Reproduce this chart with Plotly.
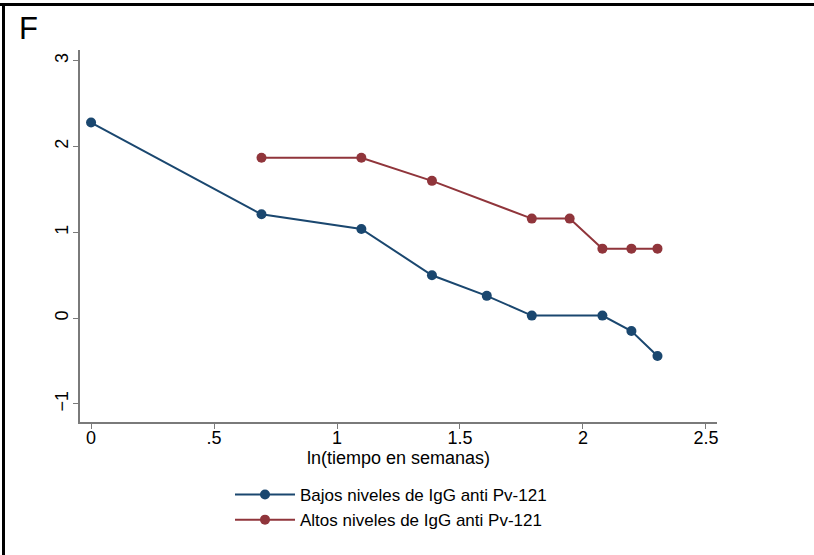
import plotly.graph_objects as go

# ln(weeks) on the x axis, log-log survival on the y axis
x_bajos = [0.0, 0.693, 1.099, 1.386, 1.609, 1.792, 2.079, 2.197, 2.303]
y_bajos = [2.28, 1.21, 1.04, 0.50, 0.26, 0.03, 0.03, -0.15, -0.44]

x_altos = [0.693, 1.099, 1.386, 1.792, 1.946, 2.079, 2.197, 2.303]
y_altos = [1.87, 1.87, 1.60, 1.16, 1.16, 0.81, 0.81, 0.81]

x_ticks = [0, 0.5, 1, 1.5, 2, 2.5]
x_tick_labels = ["0", ".5", "1", "1.5", "2", "2.5"]
y_ticks = [-1, 0, 1, 2, 3]

name_bajos = "Bajos niveles de IgG anti Pv-121"
name_altos = "Altos niveles de IgG anti Pv-121"

BLUE = "#1a476f"
RED = "#90353b"
AXIS = "#7a7a7a"
FONT = "Liberation Sans, Arial, sans-serif"

W, H = 814, 555
ML, MR, MT, MB = 80, 97, 50, 133
PW, PH = W - ML - MR, H - MT - MB


def px_x(p):
    return (p - ML) / PW


def px_y(p):
    return (H - MB - p) / PH


fig = go.Figure()
fig.add_trace(go.Scatter(
    x=x_bajos, y=y_bajos, mode="lines+markers", name=name_bajos,
    line=dict(color=BLUE, width=2), marker=dict(color=BLUE, size=10),
))
fig.add_trace(go.Scatter(
    x=x_altos, y=y_altos, mode="lines+markers", name=name_altos,
    line=dict(color=RED, width=2), marker=dict(color=RED, size=10),
))

axis_common = dict(
    showline=True, linecolor=AXIS, linewidth=1.5,
    ticks="outside", ticklen=5, tickcolor=AXIS, tickwidth=1.2,
    showgrid=False, zeroline=False,
    tickfont=dict(family=FONT, size=18, color="black"),
)

fig.update_xaxes(
    range=[-0.045, 2.545], tickvals=x_ticks, ticktext=x_tick_labels,
    ticklabelstandoff=-6,
    **axis_common,
)
fig.update_yaxes(
    range=[-1.21, 3.125], tickvals=y_ticks, tickangle=-90,
    ticklabelstandoff=-2,
    **axis_common,
)

fig.update_layout(
    width=W, height=H,
    margin=dict(l=ML, r=MR, t=MT, b=MB, autoexpand=False),
    paper_bgcolor="white", plot_bgcolor="white",
    font=dict(family=FONT, color="black"),
    legend=dict(
        xref="container", yref="container",
        x=230 / W, y=1 - 477 / H, xanchor="left", yanchor="top",
        font=dict(family=FONT, size=17, color="black"),
        bgcolor="rgba(0,0,0,0)", itemwidth=60, tracegroupgap=0,
    ),
    shapes=[
        dict(type="line", xref="paper", yref="paper",
             x0=px_x(0), x1=px_x(W), y0=px_y(4.5), y1=px_y(4.5),
             line=dict(color="black", width=3)),
        dict(type="line", xref="paper", yref="paper",
             x0=px_x(3.5), x1=px_x(3.5), y0=px_y(4.5), y1=px_y(H),
             line=dict(color="black", width=3)),
    ],
    annotations=[
        dict(text="F", xref="paper", yref="paper",
             x=px_x(17), y=px_y(9), xanchor="left", yanchor="top",
             showarrow=False, font=dict(family=FONT, size=31, color="black")),
        dict(text="ln(tiempo en semanas)", xref="paper", yref="paper",
             x=0.5, y=px_y(458), xanchor="center", yanchor="middle",
             showarrow=False, font=dict(family=FONT, size=18, color="black")),
    ],
)

fig.write_html("out.html")
